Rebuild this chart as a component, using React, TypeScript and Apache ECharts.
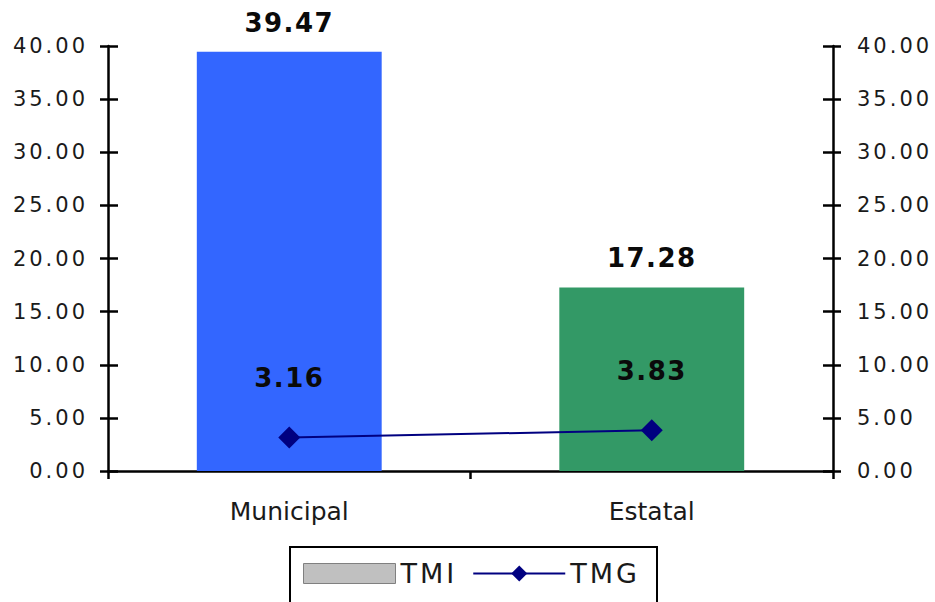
import React, { useEffect, useRef } from "react";
import * as echarts from "echarts";

const categories = ["Municipal", "Estatal"];
const tmiValues = [39.47, 17.28];
const tmgValues = [3.16, 3.83];
const barColors = ["#3366ff", "#339966"];
const seriesNames = ["TMI", "TMG"];
const yMin = 0;
const yMax = 40;
const yInterval = 5;

const FONT = "DejaVu Sans";

function applySpacing(root: HTMLElement) {
  root.querySelectorAll("text").forEach((el) => {
    const cs = window.getComputedStyle(el);
    const size = parseFloat(cs.fontSize);
    const bold = cs.fontWeight === "700" || cs.fontWeight === "bold";
    let sp = 0;
    if (size === 21) sp = 3;
    else if (size === 26 && bold) sp = 1.5;
    else if (size === 27) sp = 3;
    (el as SVGTextElement).style.letterSpacing = sp + "px";
  });
}

export default function App() {
  const ref = useRef<HTMLDivElement>(null);
  useEffect(() => {
    document.body.style.margin = "0";
    const chart = echarts.init(ref.current!, null, { renderer: "svg" });
    const baseY = {
      type: "value",
      min: yMin,
      max: yMax,
      interval: yInterval,
      splitLine: { show: false },
    };
    const labelStyle = {
      fontFamily: FONT,
      fontSize: 21,
      color: "#1a1a1a",
      formatter: (v: number) => v.toFixed(2),
    };
    const dataLabel = {
      show: true,
      position: "top",
      fontFamily: FONT,
      fontSize: 26,
      fontWeight: "bold",
      color: "#0a0a0a",
      formatter: (p: any) => p.value.toFixed(2),
    };
    chart.on("rendered", () => applySpacing(ref.current!));
    chart.setOption({
      animation: false,
      grid: { left: 108, right: 102, top: 46, bottom: 131 },
      graphic: [
        {
          type: "rect",
          shape: { x: 290, y: 547, width: 367, height: 80 },
          style: { fill: "#fff", stroke: "#000", lineWidth: 2 },
          z: -1,
        },
      ],
      legend: {
        left: 303,
        top: 560,
        padding: 0,
        itemWidth: 92,
        itemHeight: 20,
        itemGap: 24,
        textStyle: { fontFamily: FONT, fontSize: 27, color: "#1a1a1a" },
        data: [
          {
            name: "TMI",
            icon: "rect",
            itemStyle: { color: "#c0c0c0", borderColor: "#808080", borderWidth: 1 },
          },
          { name: "TMG" },
        ],
      },
      xAxis: {
        type: "category",
        data: categories,
        axisLine: { lineStyle: { color: "#000", width: 2.5 } },
        axisTick: { show: true, length: 8, lineStyle: { color: "#000", width: 2.5 } },
        axisLabel: { fontFamily: FONT, fontSize: 25, color: "#1a1a1a", margin: 28 },
      },
      yAxis: [
        {
          ...baseY,
          position: "left",
          axisLine: { show: true, lineStyle: { color: "#000", width: 2.5 } },
          axisTick: { show: true, length: 8, lineStyle: { color: "#000", width: 2.5 } },
          axisLabel: { ...labelStyle, margin: 20 },
        },
        {
          ...baseY,
          position: "right",
          axisLine: { show: true, lineStyle: { color: "#000", width: 2.5 } },
          axisTick: { show: true, length: 8, lineStyle: { color: "#000", width: 2.5 } },
          axisLabel: { ...labelStyle, margin: 24 },
        },
        {
          ...baseY,
          position: "left",
          axisLine: { show: false },
          axisTick: { show: true, inside: true, length: 10, lineStyle: { color: "#000", width: 2.5 } },
          axisLabel: { show: false },
        },
        {
          ...baseY,
          position: "right",
          axisLine: { show: false },
          axisTick: { show: true, inside: true, length: 10, lineStyle: { color: "#000", width: 2.5 } },
          axisLabel: { show: false },
        },
      ],
      series: [
        {
          name: seriesNames[0],
          type: "bar",
          yAxisIndex: 0,
          barCategoryGap: "49%",
          itemStyle: { color: "#c0c0c0" },
          data: tmiValues.map((v, i) => ({ value: v, itemStyle: { color: barColors[i] } })),
          label: { ...dataLabel, distance: 16 },
        },
        {
          name: seriesNames[1],
          type: "line",
          yAxisIndex: 0,
          data: tmgValues,
          symbol: "diamond",
          symbolSize: 22,
          itemStyle: { color: "#000080" },
          lineStyle: { color: "#000080", width: 2 },
          label: { ...dataLabel, distance: 35 },
        },
      ],
    });
    applySpacing(ref.current!);
    const t = setTimeout(() => applySpacing(ref.current!), 50);
    return () => {
      clearTimeout(t);
      chart.dispose();
    };
  }, []);
  return <div ref={ref} style={{ width: 935, height: 602 }} />;
}
